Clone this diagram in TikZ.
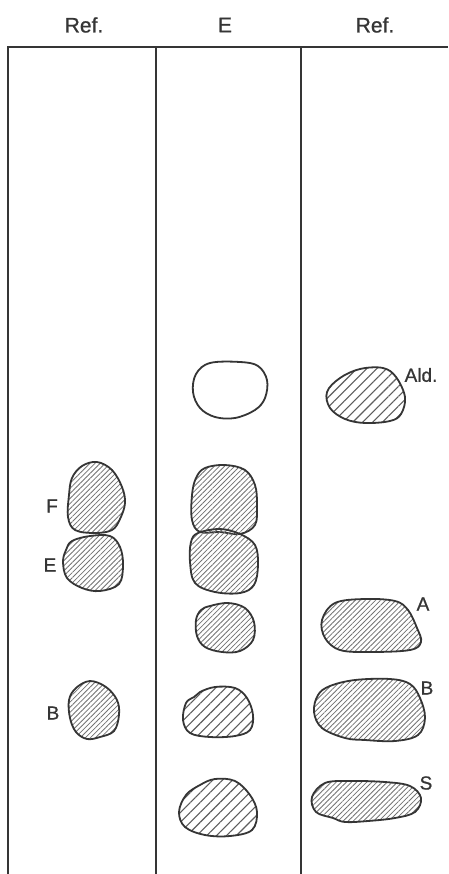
\documentclass[tikz,border=0pt]{standalone}
\usepackage{fontspec}
\setmainfont{Liberation Sans}
\newfontfamily\labfont{Liberation Sans}[FakeBold=0.8]
\usetikzlibrary{patterns.meta}
\definecolor{ink}{HTML}{353535}
\definecolor{hatch}{HTML}{727272}
\tikzset{
  frameline/.style={draw=ink, line width=1.4pt},
  blob/.style={draw=ink, line width=1.8pt, line join=round},
  dense/.style={blob, pattern={Lines[angle=45,distance=3.6pt,line width=0.8pt]}, pattern color=hatch},
  sparse/.style={blob, pattern={Lines[angle=45,distance=7pt,line width=1.1pt]}, pattern color=ink!80},
  head/.style={font=\labfont\fontsize{21}{24}\selectfont, text=ink, inner sep=0pt},
  lab/.style={font=\labfont\fontsize{19}{21}\selectfont, text=ink, inner sep=0pt}
}
\begin{document}
\begin{tikzpicture}[x=1pt,y=-1pt]
\useasboundingbox (0,0) rectangle (448,874);
\fill[white] (0,0) rectangle (448,874);
% frame
\coordinate (tl) at (8,47);
\coordinate (tr) at (448,47);
\coordinate (bl) at (8,874);
\coordinate (d1t) at (156,47);
\coordinate (d1b) at (156,874);
\coordinate (d2t) at (301,47);
\coordinate (d2b) at (301,874);
\draw[frameline] (bl) -- (tl) -- (tr);
\draw[frameline] (d1t) -- (d1b);
\draw[frameline] (d2t) -- (d2b);
% headers
\node[head] (h1) at (84,25) {Ref.};
\node[head] (h2) at (225,25) {E};
\node[head] (h3) at (375,25) {Ref.};
% left column
\draw[dense] plot[smooth cycle, tension=0.6] coordinates {(82,466) (97,462) (112,470) (122,487) (125,503) (120,519) (112,530) (95,533) (75,530) (68,517) (69,495) (72,478)};
\draw[dense] plot[smooth cycle, tension=0.6] coordinates {(72,541) (90,536) (110,536) (120,547) (123,565) (119,584) (100,591) (82,588) (67,578) (63,562) (66,550)};
\draw[dense] plot[smooth cycle, tension=0.6] coordinates {(90,681) (106,687) (117,700) (119,715) (114,731) (100,737) (87,739) (76,732) (70,718) (69,700) (76,688)};
\node[lab] (lF) at (52,506) {F};
\node[lab] (lE) at (50,565) {E};
\node[lab] (lB1) at (53,713) {B};
% middle column
\draw[blob] plot[smooth cycle, tension=0.6] coordinates {(210,363) (240,362) (258,366) (267,380) (265,398) (255,410) (235,418) (215,417) (200,408) (193,392) (196,374)};
\draw[dense] plot[smooth cycle, tension=0.6] coordinates {(205,468) (225,465) (245,470) (255,485) (257,505) (255,525) (240,534) (220,532) (200,532) (192,520) (192,495) (196,478)};
\draw[dense] plot[smooth cycle, tension=0.6] coordinates {(198,533) (220,529) (240,534) (255,545) (258,565) (254,585) (240,593) (215,592) (195,583) (190,562) (191,542)};
\draw[dense] plot[smooth cycle, tension=0.6] coordinates {(210,606) (228,603) (245,608) (254,622) (253,640) (240,651) (222,652) (205,647) (197,636) (196,620) (201,610)};
\draw[sparse] plot[smooth cycle, tension=0.6] coordinates {(200,692) (215,687) (235,688) (247,698) (253,715) (250,730) (235,736) (210,737) (190,733) (183,720) (186,703) (194,697)};
\draw[sparse] plot[smooth cycle, tension=0.6] coordinates {(200,785) (215,779) (235,781) (250,795) (257,812) (252,830) (230,836) (205,835) (185,827) (179,812) (186,795)};
% right column
\draw[sparse] plot[smooth cycle, tension=0.6] coordinates {(340,378) (360,369) (383,368) (396,377) (405,397) (401,414) (390,421) (365,423) (345,419) (330,408) (327,392)};
\draw[dense] plot[smooth cycle, tension=0.6] coordinates {(335,603) (365,599) (395,601) (408,610) (417,628) (421,642) (410,650) (370,652) (340,650) (325,638) (322,620)};
\draw[dense] plot[smooth cycle, tension=0.6] coordinates {(330,686) (355,680) (390,679) (410,684) (420,698) (425,718) (418,735) (395,741) (365,740) (345,738) (322,728) (314,712) (318,695)};
\draw[dense] plot[smooth cycle, tension=0.6] coordinates {(325,783) (350,781) (385,782) (410,786) (421,798) (415,812) (395,818) (368,821) (345,822) (333,818) (316,812) (312,797)};
\node[lab] (lAld) at (421,375) {Ald.};
\node[lab] (lA) at (423,604) {A};
\node[lab] (lB2) at (427,688) {B};
\node[lab] (lS) at (426,783) {S};
\end{tikzpicture}
\end{document}
